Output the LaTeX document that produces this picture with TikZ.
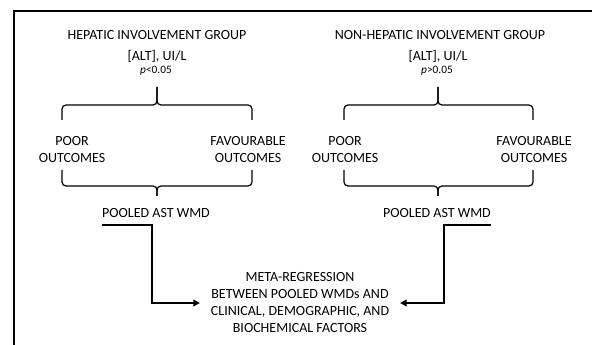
\documentclass[tikz,border=0pt]{standalone}
\usepackage{fontspec}
\setmainfont{Carlito}
\usetikzlibrary{arrows.meta}
\tikzset{
  lbl/.style={align=center, inner sep=0pt, font=\fontsize{10.5}{12.75}\selectfont},
  pval/.style={inner sep=0pt, font=\fontsize{8.5}{10}\selectfont},
  brace/.style={line width=0.9pt, rounded corners=3pt},
  flow/.style={line width=1.6pt, -{Triangle[length=5pt,width=5pt]}}
}
\begin{document}
\begin{tikzpicture}[x=0.75pt,y=-0.75pt]
\useasboundingbox (0,0) rectangle (592,345);
\draw[line width=0.8pt] (14,345) -- (14,11) -- (592,11);
\node[lbl] (hgrp) at (157,35) {HEPATIC INVOLVEMENT GROUP};
\node[lbl] (halt) at (157,56) {[ALT], UI/L};
\node[pval] (hp) at (156,71) {\textit{p}<0.05};
\node[lbl] (hpoor) at (72,150) {POOR\\OUTCOMES};
\node[lbl] (hfav) at (248,150) {FAVOURABLE\\OUTCOMES};
\node[lbl] (hwmd) at (156,213) {POOLED AST WMD};
\coordinate (htop) at (157,87);
\coordinate (hmid) at (157,105);
\coordinate (hbot) at (157,196);
\coordinate (hlow) at (157,186);
\draw[brace] (62,120) |- (hmid) -- (htop);
\draw[brace] (252,120) |- (hmid) -- (htop);
\draw[brace] (62,170) |- (hlow) -- (hbot);
\draw[brace] (252,170) |- (hlow) -- (hbot);
\node[lbl] (ngrp) at (440,35) {NON-HEPATIC INVOLVEMENT GROUP};
\node[lbl] (nalt) at (438,56) {[ALT], UI/L};
\node[pval] (np) at (437,71) {\textit{p}>0.05};
\node[lbl] (npoor) at (345,150) {POOR\\OUTCOMES};
\node[lbl] (nfav) at (534,150) {FAVOURABLE\\OUTCOMES};
\node[lbl] (nwmd) at (437,213) {POOLED AST WMD};
\coordinate (ntop) at (438,87);
\coordinate (nmid) at (438,105);
\coordinate (nbot) at (438,196);
\coordinate (nlow) at (438,186);
\draw[brace] (344,120) |- (nmid) -- (ntop);
\draw[brace] (533,120) |- (nmid) -- (ntop);
\draw[brace] (344,170) |- (nlow) -- (nbot);
\draw[brace] (533,170) |- (nlow) -- (nbot);
\node[lbl] (meta) at (300,303) {META-REGRESSION\\BETWEEN POOLED WMDs AND\\CLINICAL, DEMOGRAPHIC, AND\\BIOCHEMICAL FACTORS};
\coordinate (hbend) at (152,225);
\coordinate (nbend) at (444,225);
\draw[flow] (hwmd.south west |- hbend) -- (hbend) |- ([xshift=-8]meta.west);
\draw[flow] (nwmd.south east |- nbend) -- (nbend) |- ([xshift=8]meta.east);
\end{tikzpicture}
\end{document}
